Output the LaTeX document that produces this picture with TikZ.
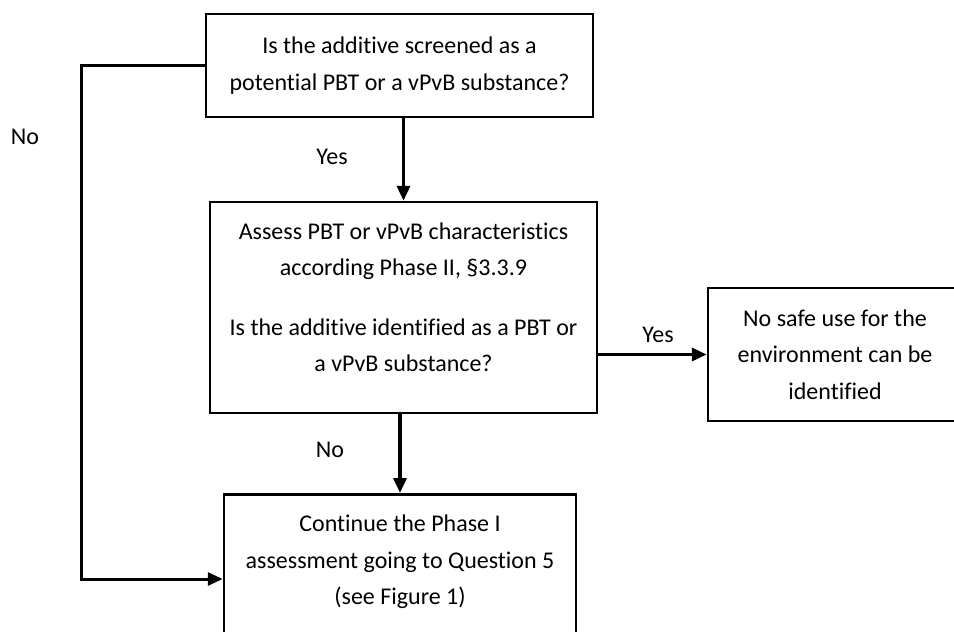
\documentclass[tikz,border=0pt]{standalone}
\usepackage{fontspec}
\setmainfont[Ligatures=NoCommon]{Carlito}
\usetikzlibrary{arrows.meta}
\newcommand{\flowfont}{\fontsize{24}{36.5}\selectfont}
\tikzset{
            stepbox/.style={draw, line width=2.5pt, inner sep=0pt, align=center},
            flow/.style={line width=3.5pt, -{Triangle[width=13pt,length=15pt]}}
        }

\begin{document}
\begin{tikzpicture}[
                    x=1pt, y=-1pt,
                    every node/.style={font=\flowfont}
                    ]
                \useasboundingbox (0,0) rectangle (954,632);
                \node[stepbox, minimum width=387pt, minimum height=103pt] (screen) at (399.5,65.5)
                    {Is the additive screened as a\\potential PBT or a vPvB substance?};
                \node[stepbox, minimum width=387pt, minimum height=211pt, text depth=21pt] (assess) at (403.5,307.5)
                    {Assess PBT or vPvB characteristics\\according Phase II, \S3.3.9\\[23pt]Is the additive identified as a PBT or\\a vPvB substance?};
                \node[stepbox, minimum width=254pt, minimum height=133pt] (nosafe) at (835,354.5)
                    {No safe use for the\\environment can be\\identified};
                \node[stepbox, anchor=north, minimum width=352pt, inner ysep=21pt, text depth=30pt] (cont) at (400,493)
                    {Continue the Phase I\\assessment going to Question 5\\(see Figure 1)};
                \coordinate (noturn) at (81,579);

                \draw[flow] (assess.north |- screen.south) -- (assess.north);
                \draw[flow] (cont.north |- assess.south) -- (cont.north);
                \draw[flow] (assess.east |- nosafe.west) -- (nosafe.west);
                \draw[flow, line width=3pt] (screen.west) -| (noturn) -- (cont.west |- noturn);

                \node (yes1) at (332,157) {Yes};
                \node (no1) at (330,450) {No};
                \node (yes2) at (658,335) {Yes};
                \node (no2) at (25,137) {No};
            \end{tikzpicture}
\end{document}
